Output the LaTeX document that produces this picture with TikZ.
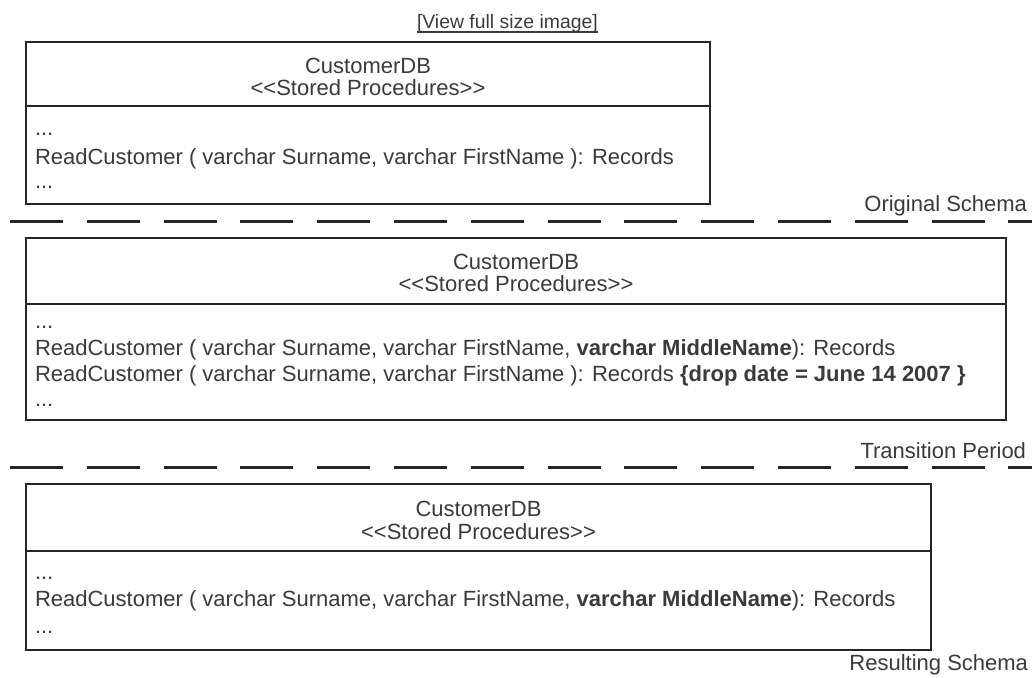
\documentclass[tikz,border=0pt]{standalone}
\usepackage{fontspec}
\newfontfamily\uml{Liberation Sans}
\definecolor{textc}{HTML}{3A3A3A}
\definecolor{linec}{HTML}{262626}
\begin{document}
\begin{tikzpicture}[x=1pt,y=-1pt,
  box/.style={draw=linec, line width=2.4pt, inner sep=0pt, outer sep=0pt, anchor=north west},
  divl/.style={draw=linec, line width=2.4pt},
  sepline/.style={draw=linec, line width=3pt, dash pattern=on 53pt off 23.8pt},
  txt/.style={inner sep=0pt, outer sep=0pt, text=textc, font=\uml\fontsize{22}{26}\selectfont},
  ttl/.style={txt, anchor=base},
  body/.style={txt, anchor=base west},
  lbl/.style={txt, anchor=base east}]
\useasboundingbox (0,0) rectangle (1032,677);
% link text
\node[inner sep=0pt, outer sep=0pt, text=textc, font=\uml\fontsize{19.4}{22}\selectfont, anchor=base west] (view) at (417,29) {[View full size image]};
\draw[textc, line width=1.2pt] ([yshift=-3pt]view.base west) -- ([yshift=-3pt]view.base east);
% box 1
\node[box, minimum width=684pt, minimum height=162pt] (b1) at (26,42) {};
\coordinate (d1) at (0,106);
\draw[divl] (b1.west |- d1) -- (b1.east |- d1);
\node[ttl] (t1a) at (368,73) {CustomerDB};
\node[ttl] (t1b) at (368,95) {<<Stored Procedures>>};
\node[body] (p1a) at (35,135.5) {...};
\node[body] (p1b) at (35,164) {ReadCustomer ( varchar Surname, varchar FirstName ): Records};
\node[body] (p1c) at (35,188) {...};
% separator 1
\coordinate (s1a) at (10,221);
\coordinate (s1b) at (1032,221);
\draw[sepline] (s1a) -- (s1b);
\node[lbl] (l1) at (1027,211) {Original Schema};
% box 2
\node[box, minimum width=980pt, minimum height=182pt] (b2) at (26,238) {};
\coordinate (d2) at (0,304);
\draw[divl] (b2.west |- d2) -- (b2.east |- d2);
\node[ttl] (t2a) at (516,269) {CustomerDB};
\node[ttl] (t2b) at (516,291) {<<Stored Procedures>>};
\node[body] (p2a) at (35,328.5) {...};
\node[body] (p2b) at (35,355) {ReadCustomer ( varchar Surname, varchar FirstName, \textbf{varchar MiddleName}): Records};
\node[body] (p2c) at (35,381) {ReadCustomer ( varchar Surname, varchar FirstName ): Records \textbf{\{drop date = June 14 2007 \}}};
\node[body] (p2d) at (35,406.5) {...};
\node[lbl] (l2) at (1026,458) {Transition Period};
% separator 2
\coordinate (s2a) at (10,467);
\coordinate (s2b) at (1032,467);
\draw[sepline] (s2a) -- (s2b);
% box 3
\node[box, minimum width=905pt, minimum height=166pt] (b3) at (26,484) {};
\coordinate (d3) at (0,551);
\draw[divl] (b3.west |- d3) -- (b3.east |- d3);
\node[ttl] (t3a) at (478.5,516) {CustomerDB};
\node[ttl] (t3b) at (478.5,539) {<<Stored Procedures>>};
\node[body] (p3a) at (35,579.5) {...};
\node[body] (p3b) at (35,606) {ReadCustomer ( varchar Surname, varchar FirstName, \textbf{varchar MiddleName}): Records};
\node[body] (p3c) at (35,633.5) {...};
\node[lbl] (l3) at (1028,670.5) {Resulting Schema};
\end{tikzpicture}
\end{document}
